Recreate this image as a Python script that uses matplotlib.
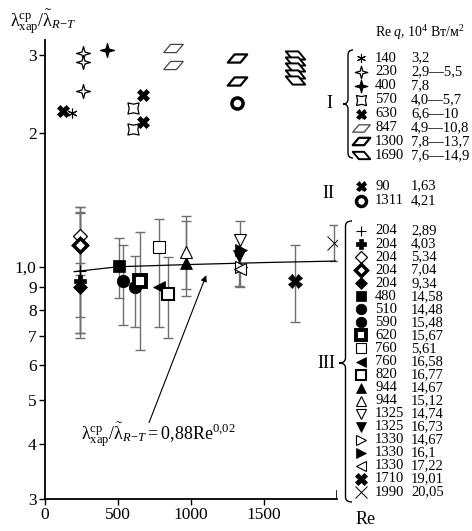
import numpy as np
import matplotlib
matplotlib.use('Agg')
import matplotlib.pyplot as plt
from matplotlib.path import Path
from matplotlib.patches import PathPatch
from matplotlib.ticker import NullLocator

plt.rcParams['font.family'] = 'Liberation Serif'
plt.rcParams['mathtext.fontset'] = 'custom'
plt.rcParams['mathtext.rm'] = 'Liberation Serif'
plt.rcParams['mathtext.it'] = 'Liberation Serif:italic'
plt.rcParams['mathtext.bf'] = 'Liberation Serif:bold'

# ---- data ----
# group I (no error bars)
g1_re = ['140', '230', '400', '570', '630', '847', '1300', '1690']
g1_q = ['3,2', '2,9—5,5', '7,8', '4,0—5,7', '6,6—10', '4,9—10,8', '7,8—13,7', '7,6—14,9']
g1_x = [[185], [261, 261, 261], [425], [604, 604], [669, 669], [878, 878], [1317, 1317],
        [1715, 1715, 1715, 1715, 1715]]
g1_y = [[2.22], [3.03, 2.89, 2.49], [3.07], [2.28, 2.04], [2.43, 2.12], [3.11, 2.84], [2.95, 2.62],
        [3.00, 2.90, 2.81, 2.72, 2.64]]

# group II
g2_re = ['90', '1311']
g2_q = ['1,63', '4,21']
g2_x = [123, 1317]
g2_y = [2.24, 2.34]

# group III (with error bars)
g3_re = ['204', '204', '204', '204', '204', '480', '510', '590', '620', '760', '760', '820',
         '944', '944', '1325', '1325', '1330', '1330', '1330', '1710', '1990']
g3_q = ['2,89', '4,03', '5,34', '7,04', '9,34', '14,58', '14,48', '15,48', '15,67', '5,61', '16,58',
        '16,77', '14,67', '15,12', '14,74', '16,73', '14,67', '16,1', '17,22', '19,01', '20,05']
g3_x = [240, 240, 240, 240, 240, 510, 537, 617, 652, 784, 780, 845,
        967, 967, 1337, 1330, 1340, 1340, 1337, 1715, 1982]
g3_y = [0.98, 0.93, 1.17, 1.12, 0.90, 1.005, 0.93, 0.90, 0.93, 1.107, 0.90, 0.87,
        1.02, 1.08, 1.15, 1.06, 1.00, 1.09, 0.99, 0.93, 1.13]
g3_lo = [0.96, 0.71, 0.77, 0.71, 0.69, 0.85, 0.74, 0.73, 0.65, 0.73, 0.90, 0.69,
         0.89, 0.86, 0.90, 0.905, 1.00, 1.09, 0.99, 0.75, 1.03]
g3_hi = [1.02, 1.36, 1.36, 1.33, 1.32, 1.16, 1.12, 1.06, 1.20, 1.28, 0.90, 1.05,
         1.27, 1.30, 1.27, 1.18, 1.00, 1.09, 0.99, 1.12, 1.24]

# fitted curve 0,88 Re^0,02
fit_x = [200, 500, 1000, 1500, 1990]
fit_y = [0.975, 1.0, 1.012, 1.022, 1.03]

ytick_vals = [0.3, 0.4, 0.5, 0.6, 0.7, 0.8, 0.9, 1.0, 2.0, 3.0]
ytick_labels = ['3', '4', '5', '6', '7', '8', '9', '1,0', '2', '3']
xtick_vals = [0, 500, 1000, 1500]


# ---- marker shapes ----
def star4(inner=0.3, rot=0.0):
    ang = np.deg2rad(np.arange(8) * 45 + 90 + rot)
    r = np.where(np.arange(8) % 2 == 0, 1.0, inner)
    v = np.column_stack([r * np.cos(ang), r * np.sin(ang)])
    v = np.vstack([v, v[:1]])
    return Path(v, [Path.MOVETO] + [Path.LINETO] * 7 + [Path.CLOSEPOLY])


para = Path([(-1, -0.42), (0.3, -0.42), (1, 0.42), (-0.3, 0.42), (-1, -0.42)],
            [Path.MOVETO, Path.LINETO, Path.LINETO, Path.LINETO, Path.CLOSEPOLY])
para_r = Path([(-1, 0.42), (0.3, 0.42), (1, -0.42), (-0.3, -0.42), (-1, 0.42)],
              [Path.MOVETO, Path.LINETO, Path.LINETO, Path.LINETO, Path.CLOSEPOLY])

# (marker, size, face, edge, edgewidth)
g1_style = [
    ((6, 2, 0), 7, 'k', 'k', 0.8),
    (star4(0.3), 10, 'w', 'k', 0.9),
    (star4(0.3), 10, 'k', 'k', 0.9),
    (star4(0.55, 45), 8, 'w', 'k', 0.9),
    ('X', 8, 'k', 'k', 0.5),
    (para, 14, 'w', '#444444', 0.9),
    (para, 14, 'w', 'k', 1.6),
    (para_r, 14, 'w', 'k', 1.4),
]
g2_style = [
    ('X', 8, 'k', 'k', 0.5),
    ('o', 8, 'w', 'k', 2.5),
]
g3_style = [
    ('+', 9, 'k', 'k', 0.8),
    ('P', 9, 'k', 'k', 0.5),
    ('D', 7, 'w', 'k', 0.9),
    ('D', 7, 'w', 'k', 2.5),
    ('D', 7, 'k', 'k', 0.5),
    ('s', 9, 'k', 'k', 0.5),
    ('o', 9, 'k', 'k', 0.5),
    ('o', 9, 'k', 'k', 0.5),
    ('s', 9, 'w', 'k', 2.8),
    ('s', 9, 'w', 'k', 0.8),
    ('<', 9, 'k', 'k', 0.5),
    ('s', 9, 'w', 'k', 1.5),
    ('^', 9, 'k', 'k', 0.5),
    ('^', 9, 'w', 'k', 0.8),
    ('v', 9, 'w', 'k', 0.8),
    ('v', 9, 'k', 'k', 0.5),
    ('>', 9, 'w', 'k', 0.8),
    ('>', 9, 'k', 'k', 0.5),
    ('<', 9, 'w', 'k', 0.8),
    ('X', 10, 'k', 'k', 0.5),
    ('x', 10, 'k', 'k', 0.7),
]

W, H = 472, 531
fig = plt.figure(figsize=(W / 100, H / 100), dpi=100)
ax = fig.add_axes([45 / W, 1 - 499 / H, (337 - 45) / W, (499 - 40) / H])

# overlay in pixel coordinates for the legend and labels
lax = fig.add_axes([0, 0, 1, 1], zorder=-1)
lax.set_xlim(0, W)
lax.set_ylim(H, 0)
lax.axis('off')

ax.set_yscale('log')
ax.set_xlim(0, 2000)
ax.set_ylim(0.3, 3.24)
ax.patch.set_alpha(0)
for s in ['top', 'right']:
    ax.spines[s].set_visible(False)
ax.spines['left'].set_linewidth(1.3)
ax.spines['bottom'].set_linewidth(1.3)
ax.set_yticks(ytick_vals)
ax.set_yticklabels(ytick_labels)
ax.yaxis.set_minor_locator(NullLocator())
ax.set_xticks(xtick_vals)
ax.tick_params(labelsize=12.5, length=4, width=1, pad=2)
ax.axvline(2000, ymax=0.018, color='k', lw=1.2)

# fitted line
ax.plot(fit_x, fit_y, color='k', lw=0.9, zorder=2)

# group III with error bars
for i in range(len(g3_x)):
    m, ms, fc, ec, ew = g3_style[i]
    lo = g3_y[i] - g3_lo[i]
    hi = g3_hi[i] - g3_y[i]
    if lo > 0 or hi > 0:
        ax.errorbar(g3_x[i], g3_y[i], yerr=[[lo], [hi]], fmt='none', ecolor='#707070',
                    elinewidth=1.0, capsize=3.5, capthick=1.0, zorder=1)
    ax.plot(g3_x[i], g3_y[i], linestyle='none', marker=m, ms=ms, mfc=fc, mec=ec, mew=ew, zorder=3)

# group I
for i in range(len(g1_x)):
    m, ms, fc, ec, ew = g1_style[i]
    ax.plot(g1_x[i], g1_y[i], linestyle='none', marker=m, ms=ms, mfc=fc, mec=ec, mew=ew, zorder=3)

# group II
for i in range(len(g2_x)):
    m, ms, fc, ec, ew = g2_style[i]
    ax.plot(g2_x[i], g2_y[i], linestyle='none', marker=m, ms=ms, mfc=fc, mec=ec, mew=ew, zorder=3)

# formula and arrow
formula = r'$\mathrm{\lambda}_{\mathrm{хар}}^{\mathrm{ср}}/\tilde{\mathrm{\lambda}}_{R\!-\!T}=0{,}88\mathrm{Re}^{0{,}02}$'
ax.text(778, 0.42, formula, fontsize=13, ha='center', va='center')
ax.annotate('', xy=(1111, 0.97), xytext=(706, 0.44),
            arrowprops=dict(arrowstyle='-|>', color='k', lw=0.8, mutation_scale=9))

# axis labels
lax.text(10, 22, r'$\mathrm{\lambda}_{\mathrm{хар}}^{\mathrm{ср}}/\tilde{\mathrm{\lambda}}_{R\!-\!T}$',
         fontsize=13, ha='left', va='center')
lax.text(356, 519, 'Re', fontsize=13, ha='left', va='center')


# ---- legend ----
def brace(x_tip, x_end, y0, y1, ym):
    xm = (x_tip + x_end) / 2
    d = 5
    verts = [(x_end, y0), (xm, y0), (xm, y0 + d), (xm, ym - d), (xm, ym), (x_tip, ym),
             (xm, ym), (xm, ym + d), (xm, y1 - d), (xm, y1), (x_end, y1)]
    codes = [Path.MOVETO, Path.CURVE3, Path.CURVE3, Path.LINETO, Path.CURVE3, Path.CURVE3,
             Path.CURVE3, Path.CURVE3, Path.LINETO, Path.CURVE3, Path.CURVE3]
    lax.add_patch(PathPatch(Path(verts, codes), fill=False, lw=1.0, color='k'))


fs = 10.5
mx, rx, qx = 361, 375, 411
lax.text(rx, 33, r'Re $q$, 10$^4$ Вт/м$^2$', fontsize=10, ha='left', va='center')


def legend_rows(re_list, q_list, styles, y0, dy, scale):
    for i in range(len(re_list)):
        y = y0 + i * dy
        m, ms, fc, ec, ew = styles[i]
        lax.plot(mx, y, linestyle='none', marker=m, ms=ms * scale, mfc=fc, mec=ec, mew=ew)
        lax.text(rx, y, re_list[i], fontsize=fs, ha='left', va='center')
        lax.text(qx, y, q_list[i], fontsize=fs, ha='left', va='center')


legend_rows(g1_re, g1_q, g1_style, 58, 13.9, 0.9)
brace(343, 353, 50, 158, 104)
lax.text(329, 104, 'I', fontsize=13, ha='center', va='center')

legend_rows(g2_re, g2_q, g2_style, 186, 14.5, 0.9)
lax.text(328, 193, 'II', fontsize=13, ha='center', va='center')

legend_rows(g3_re, g3_q, g3_style, 231, 13.05, 0.85)
brace(339, 352, 221, 502, 363)
lax.text(326, 363, 'III', fontsize=13, ha='center', va='center')

fig.savefig('out.png', dpi=100)
